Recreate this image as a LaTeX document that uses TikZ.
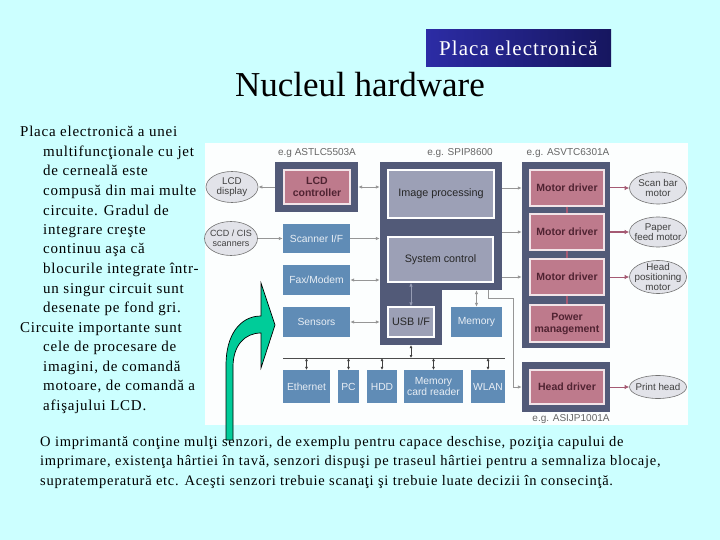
\documentclass[tikz,border=0pt]{standalone}
\usepackage{fontspec}
\setmainfont{Liberation Serif}
\newfontfamily\diag{Liberation Sans}
\newfontfamily\wserif[LetterSpace=5]{Liberation Serif}
\usetikzlibrary{arrows.meta,shapes.geometric}
\definecolor{bgc}{RGB}{204,255,255}
\definecolor{panel}{RGB}{252,254,254}
\definecolor{framec}{RGB}{82,90,120}
\definecolor{pinkb}{RGB}{190,122,140}
\definecolor{pinkt}{RGB}{80,35,50}
\definecolor{blueb}{RGB}{96,140,182}
\definecolor{bluet}{RGB}{232,238,245}
\definecolor{grayb}{RGB}{156,160,182}
\definecolor{ellf}{RGB}{226,227,233}
\definecolor{conn}{RGB}{150,150,150}
\definecolor{lconn}{RGB}{150,156,180}
\definecolor{pconn}{RGB}{165,90,115}
\definecolor{greenar}{RGB}{0,204,153}
\definecolor{navyl}{RGB}{44,44,165}
\definecolor{navyr}{RGB}{22,22,95}
\tikzset{
  framebox/.style={rectangle, fill=framec, draw=none, inner sep=0pt},
  pinkbox/.style={rectangle, fill=pinkb, draw=white!80!pinkb, line width=1.2pt, inner sep=0pt,
    font=\diag\bfseries\fontsize{10.5}{12}\selectfont, text=pinkt, align=center},
  bluebox/.style={rectangle, fill=blueb, draw=none, inner sep=0pt,
    font=\diag\fontsize{10.3}{11.5}\selectfont, text=bluet, align=center},
  graybox/.style={rectangle, fill=grayb, draw=white, line width=1.2pt, inner sep=0pt,
    font=\diag\fontsize{10.8}{12}\selectfont, text=black!85, align=center},
  ell/.style={ellipse, fill=ellf, draw=black!55, line width=0.6pt, inner sep=0pt},
  elltext/.style={font=\diag\fontsize{9.8}{10.5}\selectfont, text=black!75, align=center, inner sep=0pt},
  eg/.style={font=\diag\fontsize{10}{11}\selectfont, text=black!60, inner sep=0pt},
  garr/.style={draw=conn, line width=0.8pt, -{Latex[length=4pt,width=3.5pt]}},
  gdarr/.style={draw=conn, line width=0.8pt, {Latex[length=4pt,width=3.5pt]}-{Latex[length=4pt,width=3.5pt]}},
  ldarr/.style={draw=lconn, line width=0.8pt, {Latex[length=4pt,width=3.5pt]}-{Latex[length=4pt,width=3.5pt]}},
  busarr/.style={draw=black!75, line width=0.8pt, {Latex[length=3pt,width=3pt]}-{Latex[length=3pt,width=3pt]}},
  parr/.style={draw=pconn, line width=1pt, -{Latex[length=4.5pt,width=4.5pt]}},
  lt/.style={anchor=base west, inner sep=0pt, font=\wserif\fontsize{15}{18}\selectfont},
  bt/.style={anchor=base west, inner sep=0pt, font=\wserif\fontsize{14.5}{17}\selectfont},
}
\begin{document}
\begin{tikzpicture}[x=1pt,y=-1pt]
\useasboundingbox (0,0) rectangle (720,540);
\fill[bgc] (0,0) rectangle (720,540);
\fill[panel] (205,143) rectangle (688,425);

% titles
\node[anchor=base, inner sep=0pt, font=\fontsize{35}{40}\selectfont] (title) at (360,97) {Nucleul hardware};
\node[rectangle, minimum width=185pt, minimum height=37pt, inner sep=0pt, left color=navyl, right color=navyr,
  text=white, font=\wserif\fontsize{21}{24}\selectfont] (placa) at (518.5,48.5) {Placa electronică};

% left text
\node[lt] (l1) at (20,137) {Placa electronică a unei};
\node[lt] (l2) at (43,156.5) {multifuncţionale cu jet};
\node[lt] (l3) at (43,176) {de cerneală este};
\node[lt] (l4) at (43,195.5) {compusă din mai multe};
\node[lt] (l5) at (43,215) {circuite. Gradul de};
\node[lt] (l6) at (43,234.5) {integrare creşte};
\node[lt] (l7) at (43,254) {continuu aşa că};
\node[lt] (l8) at (43,273.5) {blocurile integrate într-};
\node[lt] (l9) at (43,293) {un singur circuit sunt};
\node[lt] (l10) at (43,312.5) {desenate pe fond gri.};
\node[lt] (l11) at (20,332) {Circuite importante sunt};
\node[lt] (l12) at (43,351.5) {cele de procesare de};
\node[lt] (l13) at (43,371) {imagini, de comandă};
\node[lt] (l14) at (43,390.5) {motoare, de comandă a};
\node[lt] (l15) at (43,410) {afişajului LCD.};

% bottom text
\node[bt] (b1) at (40,446) {O imprimantă conţine mulţi senzori, de exemplu pentru capace deschise, poziţia capului de};
\node[bt] (b2) at (40,465.5) {imprimare, existenţa hârtiei în tavă, senzori dispuşi pe traseul hârtiei pentru a semnaliza blocaje,};
\node[bt] (b3) at (40,485) {supratemperatură etc. Aceşti senzori trebuie scanaţi şi trebuie luate decizii în consecinţă.};

% chip labels
\node[eg] (eg1) at (317,153) {e.g ASTLC5503A};
\node[eg] (eg2) at (460,153) {e.g. SPIP8600};
\node[eg] (eg3) at (568,153) {e.g. ASVTC6301A};
\node[eg] (eg4) at (571,419) {e.g. ASIJP1001A};

% frames
\node[framebox, minimum width=83pt, minimum height=50pt] (lcdF) at (316.5,187) {};
\node[framebox, minimum width=122pt, minimum height=128pt] (spip) at (441,226) {};
\node[framebox, minimum width=62pt, minimum height=183pt] (spipL) at (411,253.5) {};
\node[framebox, minimum width=88pt, minimum height=186pt] (asv) at (566,255) {};
\node[framebox, minimum width=88pt, minimum height=50pt] (hdF) at (566,387) {};

% inner boxes
\node[pinkbox, minimum width=66pt, minimum height=34pt] (lcdC) at (317,187) {LCD\\controller};
\node[graybox, minimum width=106pt, minimum height=48pt] (imgP) at (441,194) {Image processing};
\node[graybox, minimum width=105pt, minimum height=45pt] (sysC) at (440.5,259.5) {System control};
\node[graybox, minimum width=46pt, minimum height=30pt] (usb) at (411,322) {USB I/F};
\node[pinkbox, minimum width=74pt, minimum height=36pt] (md1) at (567,188) {Motor driver};
\node[pinkbox, minimum width=74pt, minimum height=36pt] (md2) at (567,232) {Motor driver};
\node[pinkbox, minimum width=74pt, minimum height=36pt] (md3) at (567,277) {Motor driver};
\node[pinkbox, minimum width=74pt, minimum height=37pt] (pm) at (567,323.5) {Power\\management};
\node[pinkbox, minimum width=74pt, minimum height=34pt] (hd) at (567,387) {Head driver};

% blue boxes
\node[bluebox, minimum width=67pt, minimum height=29pt] (scan) at (316.5,238.5) {Scanner I/F};
\node[bluebox, minimum width=67pt, minimum height=30pt] (fax) at (316.5,280) {Fax/Modem};
\node[bluebox, minimum width=67pt, minimum height=30pt] (sens) at (316.5,322) {Sensors};
\node[bluebox, minimum width=51pt, minimum height=30pt] (mem) at (476.5,322) {Memory};
\node[bluebox, minimum width=47pt, minimum height=33pt] (eth) at (306.5,386.5) {Ethernet};
\node[bluebox, minimum width=21pt, minimum height=33pt] (pc) at (348.5,386.5) {PC};
\node[bluebox, minimum width=30pt, minimum height=33pt] (hdd) at (382,386.5) {HDD};
\node[bluebox, minimum width=59pt, minimum height=33pt] (mcr) at (433.5,386.5) {Memory\\card reader};
\node[bluebox, minimum width=34pt, minimum height=33pt] (wlan) at (488,386.5) {WLAN};

% ellipses
\node[ell, minimum width=52pt, minimum height=31pt] (lcdD) at (232,187) {};
\node[elltext] (lcdDt) at (lcdD) {LCD\\display};
\node[ell, minimum width=53pt, minimum height=34pt] (ccd) at (231,238.5) {};
\node[elltext, font=\diag\fontsize{9}{10}\selectfont] (ccdt) at (ccd) {CCD / CIS\\scanners};
\node[ell, minimum width=57pt, minimum height=32pt] (sbm) at (658,188) {};
\node[elltext] (sbmt) at (sbm) {Scan bar\\motor};
\node[ell, minimum width=57pt, minimum height=30pt] (pfm) at (658,232) {};
\node[elltext] (pfmt) at (pfm) {Paper\\feed motor};
\node[ell, minimum width=57pt, minimum height=33pt] (hpm) at (658,277) {};
\node[elltext, font=\diag\fontsize{9.8}{10}\selectfont] (hpmt) at (hpm) {Head\\positioning\\motor};
\node[ell, minimum width=57pt, minimum height=23pt] (ph) at (658,387) {};
\node[elltext] (pht) at (ph) {Print head};

% connectors
\draw[garr] (lcdF.west) -- (lcdD.east);
\draw[gdarr] (lcdF.east) -- (lcdF.east -| spip.west);
\draw[garr] (ccd.east) -- (scan.west);
\draw[garr] (scan.east) -- (scan.east -| spip.west);
\draw[gdarr] (fax.east) -- (fax.east -| spip.west);
\draw[gdarr] (sens.east) -- (sens.east -| spipL.west);
\draw[garr] (spip.east |- md1) -- (asv.west |- md1);
\draw[garr] (spip.east |- md2) -- (asv.west |- md2);
\draw[garr] (spip.east |- md3) -- (asv.west |- md3);
\draw[ldarr] (sysC.south -| usb.north) -- (usb.north);
\draw[gdarr] (mem.north |- spip.south) -- (mem.north);
\coordinate (spo) at (488,290);
\draw[garr] (spo) -- ++(0,8) -- ++(25,0) |- (hdF.west);
\coordinate (busL) at (283,358);
\coordinate (busR) at (505,358);
\draw[black!70, line width=1pt] (busL) -- (busR);
\draw[busarr] (spipL.south -| usb) -- (busL -| usb);
\foreach \n in {eth,pc,hdd,mcr,wlan} \draw[busarr] (\n.north) -- (\n.north |- busL);
\draw[pconn, line width=1.6pt] (md1.south) -- (md2.north);
\draw[pconn, line width=1.6pt] (md2.south) -- (md3.north);
\draw[pconn, line width=1.6pt] (md3.south) -- (pm.north);
\draw[parr] (asv.east |- md1) -- (sbm.west);
\draw[parr] (asv.east |- md2) -- (pfm.west);
\draw[parr] (asv.east |- md3) -- (hpm.west);
\draw[parr] (hdF.east) -- (ph.west);

% green arrow
\filldraw[fill=greenar, draw=black, line width=0.7pt]
  (226,440) -- (226,365) .. controls (226,335) and (240,316) .. (261,316)
  -- (261,283) -- (275,325) -- (261,368) -- (261,333)
  .. controls (245,333) and (233,345) .. (233,367) -- (233,440) -- cycle;
\end{tikzpicture}
\end{document}
